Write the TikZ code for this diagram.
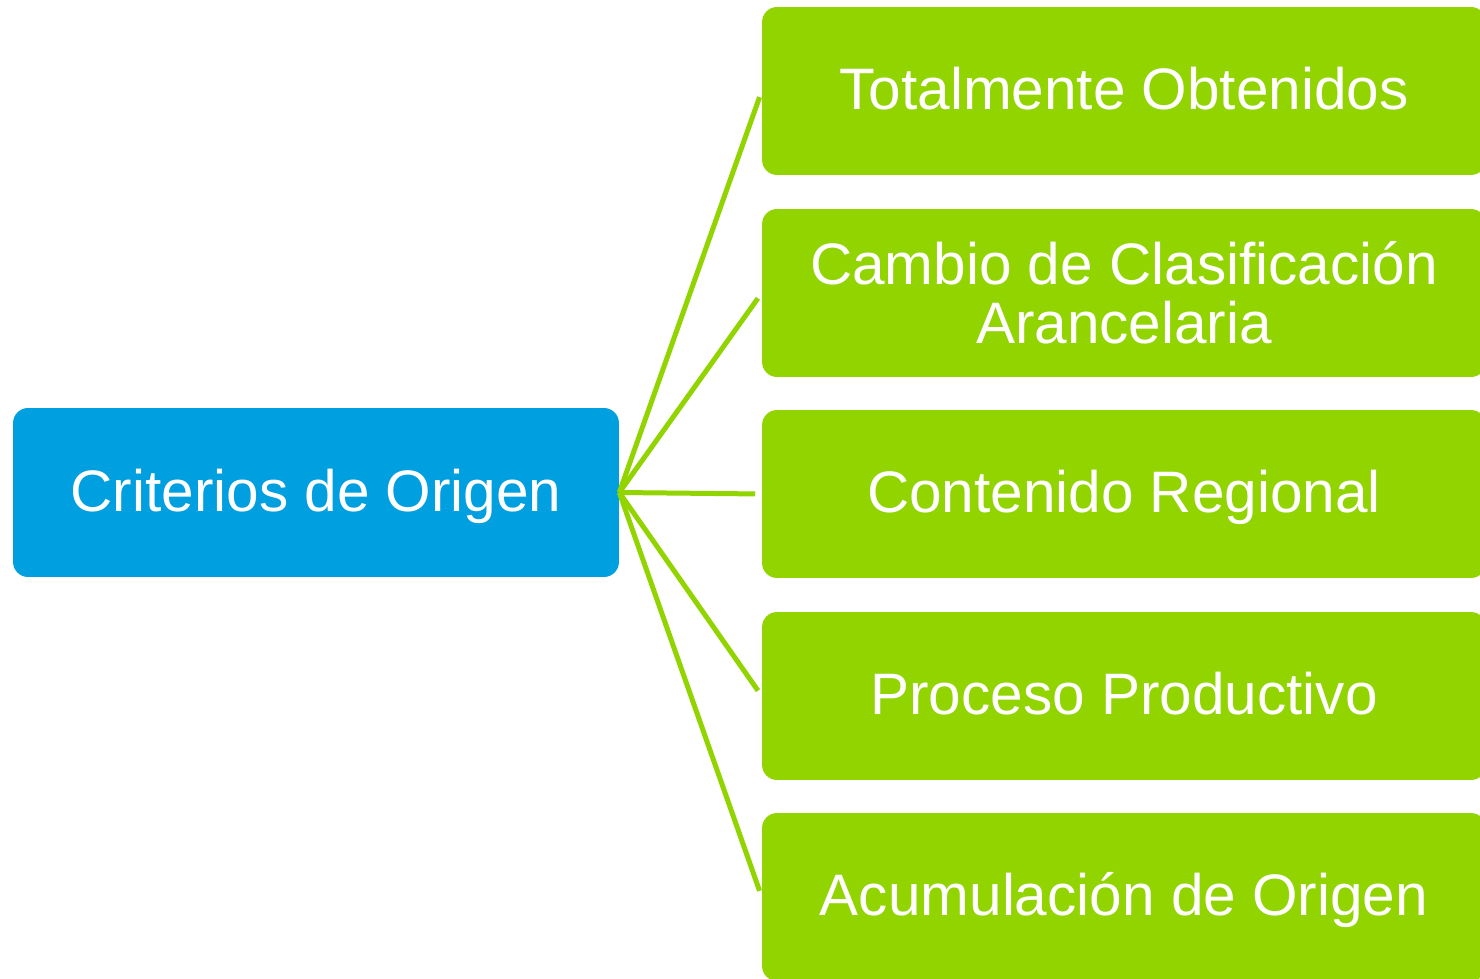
\documentclass[tikz,border=0pt]{standalone}
\usepackage{fontspec}
\setmainfont{Liberation Sans}
\usepackage{xcolor}
\usetikzlibrary{calc}
\definecolor{critblue}{HTML}{009FDF}
\definecolor{critgreen}{HTML}{92D400}

\begin{document}
\begin{tikzpicture}[x=0.02cm, y=-0.02cm,
        rootbox/.style={fill=critblue, rounded corners=0.3cm, minimum width=12.12cm,
            minimum height=3.38cm, text=white, align=center,
            font=\fontsize{33.3}{33.5}\selectfont},
        leafbox/.style={fill=critgreen, rounded corners=0.3cm, minimum width=14.48cm,
            minimum height=3.36cm, text=white, align=center,
            font=\fontsize{33.3}{33.5}\selectfont},
        onerow/.style={text height=26pt, text depth=4.4pt},
        link/.style={draw=critgreen, line width=0.1cm, shorten >=0.13cm}]
        \useasboundingbox (0,0) rectangle (1480,979);
        \clip (0,0) rectangle (1480,979);

        \draw (316,492.5) node[rootbox,onerow](orig){Criterios de Origen};

        \draw (1124, 91) node[leafbox,onerow](t1){Totalmente Obtenidos};
        \draw (1124,293) node[leafbox](t2){Cambio de Clasificación\\Arancelaria};
        \draw (1124,494) node[leafbox,onerow](t3){Contenido Regional};
        \draw (1124,696) node[leafbox,onerow](t4){Proceso Productivo};
        \draw (1124,897) node[leafbox,onerow](t5){Acumulación de Origen};

        \foreach \i in {1,...,5}
            \draw[link] (orig.east) -- (t\i.west);
    \end{tikzpicture}
\end{document}
